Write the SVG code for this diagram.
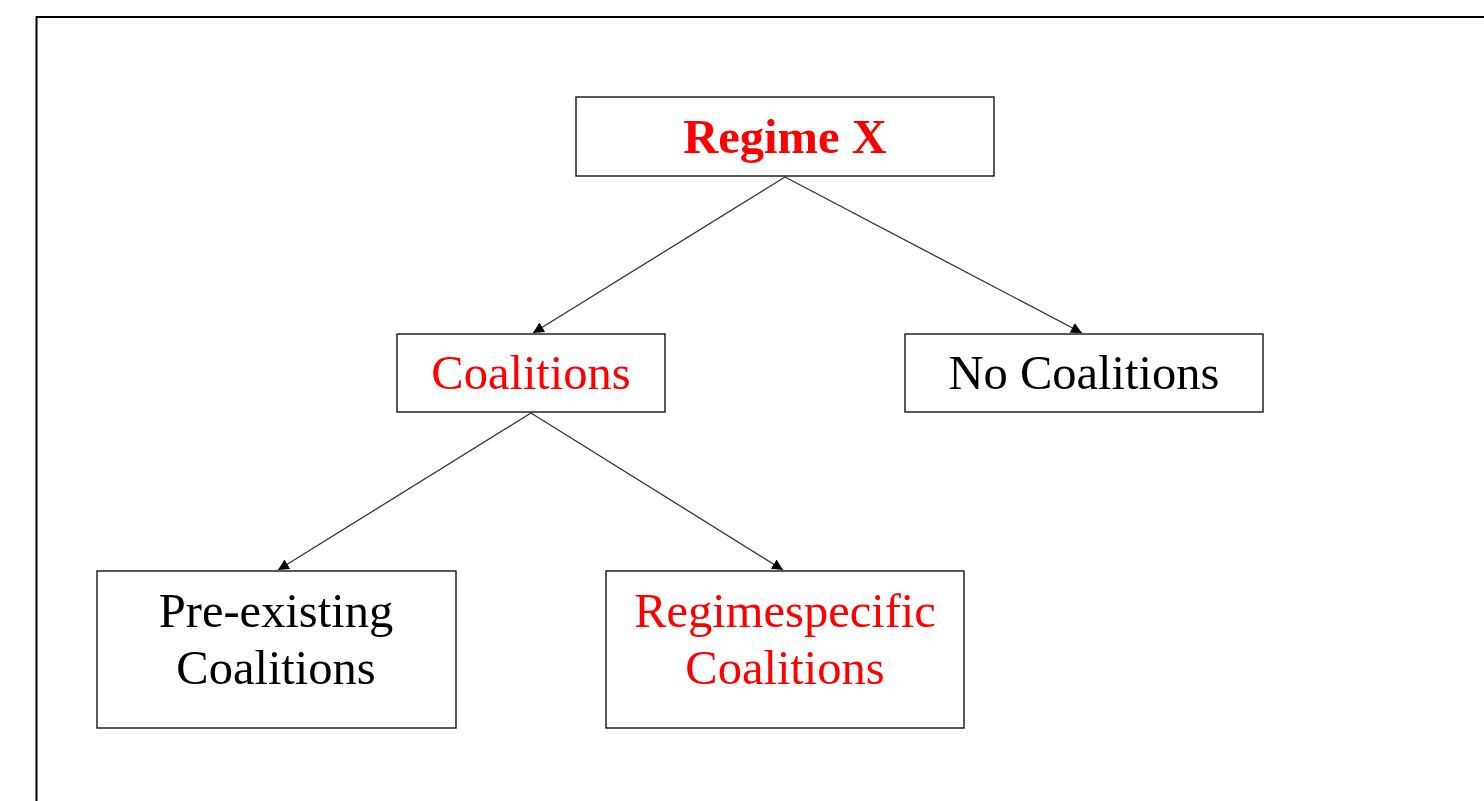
<svg xmlns="http://www.w3.org/2000/svg" width="1484" height="801" viewBox="0 0 1484 801">
<style>
.box{fill:#fff;stroke:#000;stroke-width:1.3}
.t{font-family:"Liberation Serif","Times New Roman",serif;font-size:48.5px;text-anchor:middle;fill:#000}
.red{fill:#ff0000}
.b{font-weight:bold}
.c{stroke:#333;stroke-width:1.3;fill:none;marker-end:url(#ah)}
</style>
<defs>
<marker id="ah" viewBox="0 0 10 10" refX="10" refY="5" markerWidth="11" markerHeight="11" markerUnits="userSpaceOnUse" orient="auto">
<path d="M0,0 L10,5 L0,10 z" fill="#000"/>
</marker>
</defs>
<rect width="1484" height="801" fill="#fff"/>
<path d="M36.5,801 V17 H1484" fill="none" stroke="#000" stroke-width="2"/>
<g id="connectors">
<line class="c" x1="785" y1="177" x2="533" y2="333"/>
<line class="c" x1="785" y1="177" x2="1082" y2="333"/>
<line class="c" x1="531" y1="413" x2="278" y2="570"/>
<line class="c" x1="531" y1="413" x2="783" y2="570"/>
</g>
<g id="regime-x">
<rect class="box" x="576" y="97" width="418" height="79"/>
<text class="t red b" x="785" y="153">Regime X</text>
</g>
<g id="coalitions">
<rect class="box" x="397" y="334" width="268" height="78"/>
<text class="t red" x="531" y="389">Coalitions</text>
</g>
<g id="no-coalitions">
<rect class="box" x="905" y="334" width="358" height="78"/>
<text class="t" x="1084" y="389">No Coalitions</text>
</g>
<g id="pre-existing">
<rect class="box" x="97" y="571" width="359" height="157"/>
<text class="t" x="276" y="627">Pre-existing</text>
<text class="t" x="276" y="684">Coalitions</text>
</g>
<g id="regimespecific">
<rect class="box" x="606" y="571" width="358" height="157"/>
<text class="t red" x="785" y="627">Regimespecific</text>
<text class="t red" x="785" y="684">Coalitions</text>
</g>
</svg>
